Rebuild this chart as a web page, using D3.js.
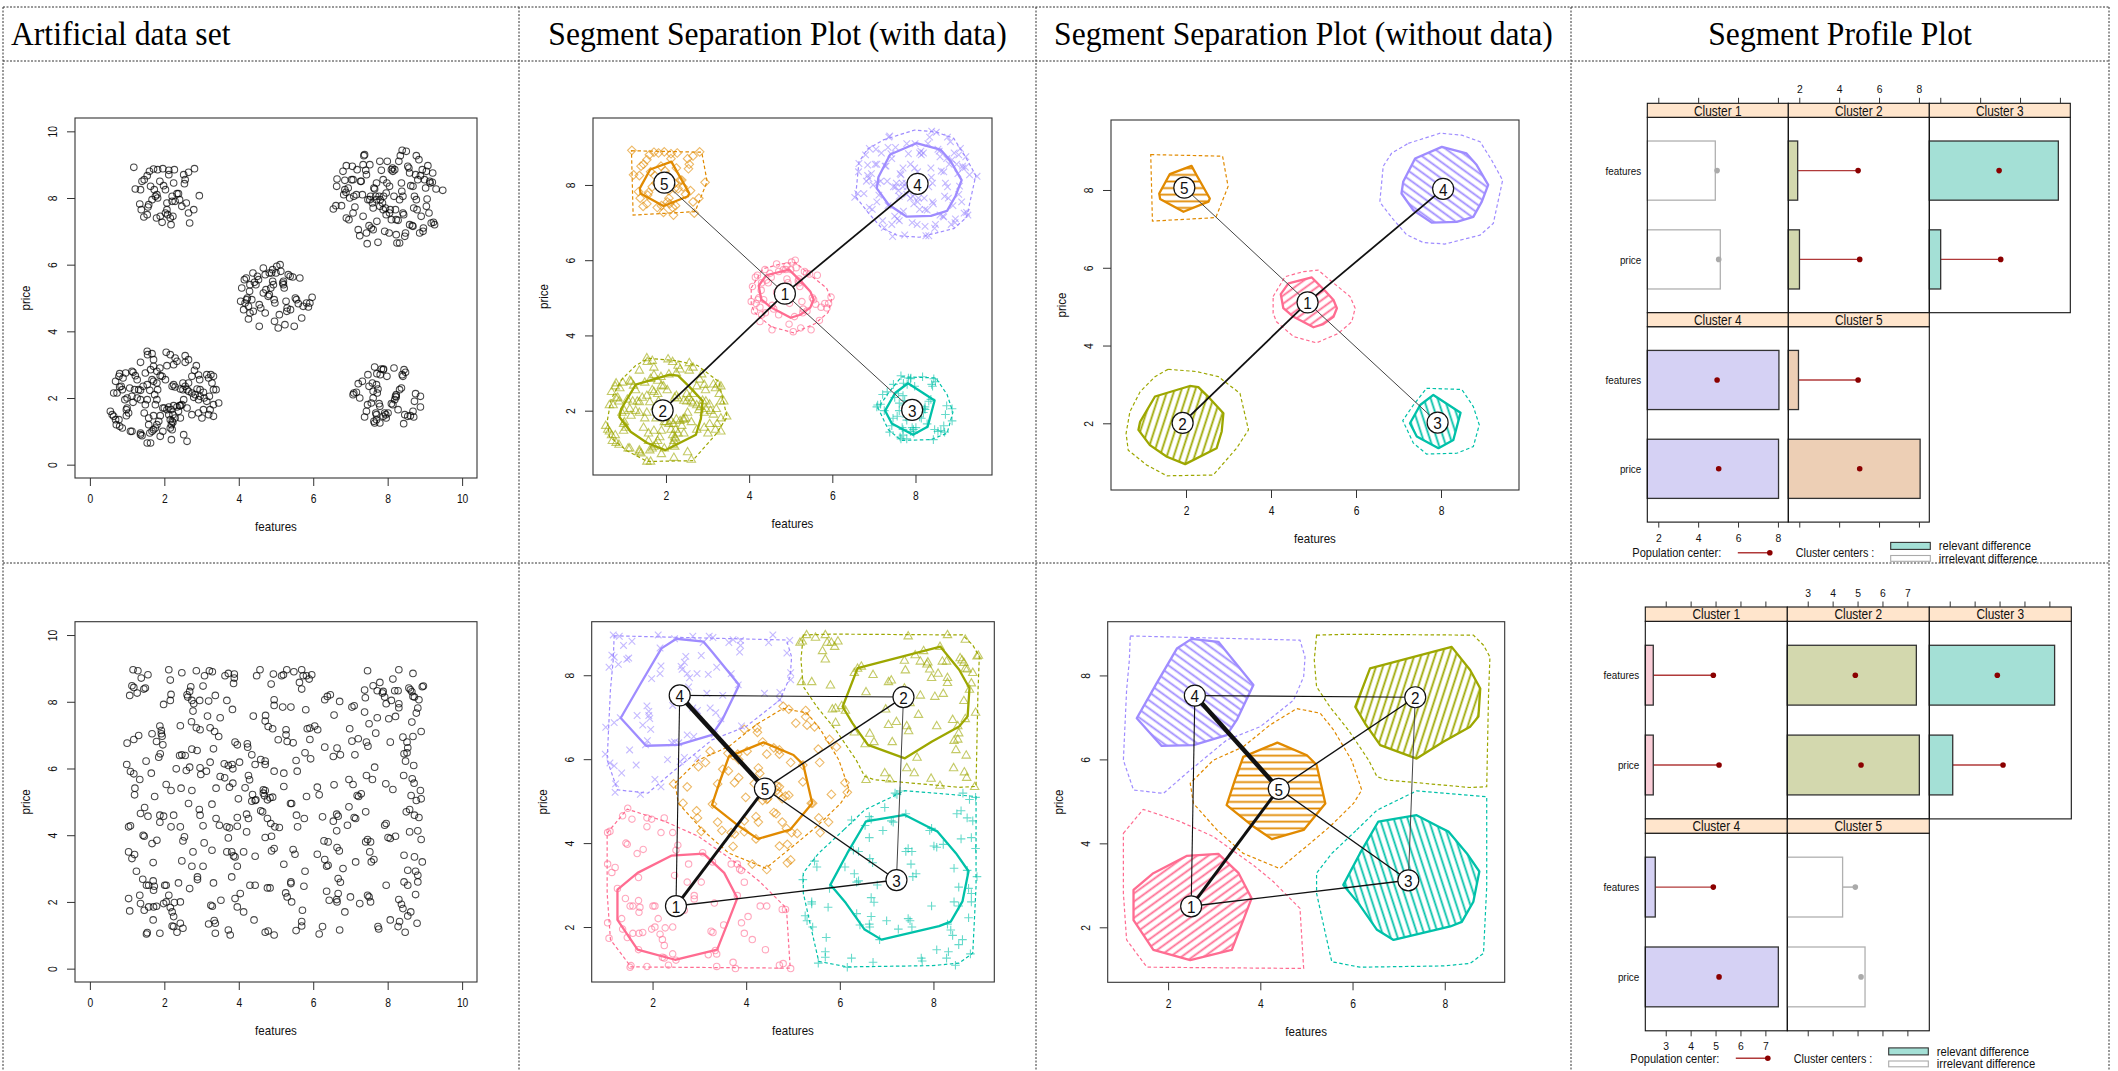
<!DOCTYPE html>
<html>
<head>
<meta charset="utf-8">
<title>segment plots</title>
<script src="https://cdn.jsdelivr.net/npm/d3@7"></script>
<style>
body{margin:0;background:#fff;}
svg{display:block;}
text{font-family:"Liberation Sans",Arial,Helvetica,sans-serif;fill:#111;}
</style>
</head>
<body>
<svg id="board"></svg>
<script>
// board size
var svg_w = 2118, svg_h = 1071;

// headings / names
var col_titles = ["Artificial data set", "Segment Separation Plot (with data)",
  "Segment Separation Plot (without data)", "Segment Profile Plot"];
var var_names = ["features", "price"];
var clus_names = ["Cluster 1", "Cluster 2", "Cluster 3", "Cluster 4", "Cluster 5"];

// ---- top row: five blobs (features, price) ----
var blob_1 = [[4.05,4.90],[4.08,5.30],[4.13,4.65],[4.15,5.55],[4.20,5.60],[4.21,4.95],[4.23,5.00],[4.26,4.37],[4.29,5.20],[4.30,5.40],[4.35,4.95],[4.38,5.75],[4.39,4.60],[4.42,5.47],[4.46,5.40],[4.50,5.65],[4.53,5.55],[4.55,4.80],[4.59,4.70],[4.66,5.15],[4.71,4.55],[4.73,5.25],[4.79,5.05],[4.86,5.30],[4.88,5.75],[4.91,5.85],[4.93,5.40],[4.95,4.95],[4.96,4.30],[4.97,4.85],[5.00,5.75],[5.02,5.95],[5.06,4.10],[5.09,4.50],[5.11,6.00],[5.13,5.80],[5.18,5.45],[5.20,5.50],[5.22,5.30],[5.27,4.90],[5.29,4.60],[5.30,4.70],[5.33,5.70],[5.38,5.65],[5.39,4.65],[5.45,5.63],[5.49,4.15],[5.52,5.00],[5.55,4.95],[5.60,4.83],[5.64,5.60],[5.69,4.40],[5.73,4.75],[5.82,4.85],[5.87,4.73],[5.91,4.85],[5.97,5.02],[4.71,5.70],[4.82,5.75],[5.20,5.40],[4.26,4.75],[4.17,4.85],[4.55,4.15],[4.30,4.55],[4.91,5.50],[4.66,5.90],[4.82,5.10],[5.24,4.20]];
var blob_2 = [[1.54,3.40],[1.55,3.30],[1.67,3.33],[1.71,3.15],[2.05,3.37],[2.16,3.30],[2.29,3.20],[2.34,3.10],[2.56,3.27],[2.56,3.07],[2.65,3.15],[2.86,2.97],[1.36,3.07],[1.16,2.77],[1.22,2.67],[1.13,2.80],[0.96,2.75],[1.63,2.85],[1.71,2.95],[1.80,2.80],[1.88,2.90],[1.94,2.65],[1.67,2.55],[1.71,2.50],[1.80,2.45],[1.89,2.67],[2.07,2.97],[2.25,3.00],[2.50,2.45],[2.65,2.45],[2.74,2.65],[2.81,2.83],[2.92,2.69],[2.95,2.55],[3.14,2.70],[3.19,2.60],[3.25,2.70],[3.32,2.65],[0.69,2.50],[0.78,2.65],[0.80,2.73],[0.84,2.35],[0.80,2.33],[0.73,2.15],[0.64,2.15],[0.87,2.25],[1.20,2.25],[1.31,2.25],[1.36,2.23],[1.43,2.35],[1.54,2.40],[1.61,2.23],[1.74,2.10],[1.82,2.25],[2.03,2.55],[2.21,2.35],[2.25,2.40],[2.29,2.33],[2.43,2.27],[2.50,2.25],[2.56,2.35],[2.65,2.20],[2.74,2.15],[2.79,2.02],[2.88,2.27],[2.96,2.25],[3.05,2.17],[3.14,1.90],[3.21,2.05],[3.28,2.45],[3.32,2.25],[3.39,2.25],[3.46,1.85],[3.05,1.65],[3.23,1.65],[3.32,1.45],[3.01,1.40],[2.92,1.95],[2.96,2.05],[2.83,2.10],[0.55,1.60],[0.60,1.50],[0.64,1.45],[0.69,1.35],[0.78,1.35],[0.71,1.20],[0.80,1.15],[0.87,1.10],[0.98,1.47],[0.98,1.65],[1.04,1.55],[1.00,1.70],[1.13,2.05],[1.00,2.00],[0.94,1.95],[1.16,1.87],[1.27,2.00],[1.36,1.95],[1.49,1.80],[1.54,1.95],[1.46,1.55],[1.58,1.40],[1.71,1.47],[1.76,1.80],[1.89,1.47],[1.96,1.70],[2.00,1.70],[2.07,1.65],[2.12,1.73],[2.18,1.65],[2.23,1.50],[2.12,1.50],[2.16,1.35],[2.21,1.30],[2.19,1.20],[2.23,1.27],[2.29,1.40],[2.38,1.60],[2.41,1.77],[2.47,1.80],[2.25,1.77],[2.34,1.73],[2.43,1.77],[2.61,1.70],[2.74,1.50],[2.61,2.25],[1.13,1.00],[1.09,1.00],[1.36,0.90],[1.40,0.87],[1.54,0.65],[1.63,0.65],[1.61,0.95],[1.67,1.00],[1.71,1.05],[1.76,1.10],[1.89,0.85],[1.96,1.00],[2.16,1.10],[2.21,1.05],[2.19,0.75],[2.52,0.90],[2.61,0.70],[2.43,1.40],[1.80,1.20],[1.85,1.30],[1.58,1.20],[1.36,0.95],[0.89,2.60],[1.27,2.55],[1.49,2.75],[1.07,2.30],[1.80,1.95],[2.52,1.95],[2.92,1.55],[3.07,2.00],[3.19,1.50],[3.32,1.80]];
var blob_3 = [[7.07,2.10],[7.09,2.15],[7.16,2.17],[7.21,2.43],[7.25,2.00],[7.32,2.50],[7.38,1.43],[7.43,1.60],[7.46,1.80],[7.47,2.70],[7.50,2.35],[7.56,1.85],[7.59,2.45],[7.63,1.30],[7.65,2.93],[7.65,1.25],[7.68,1.55],[7.70,2.40],[7.71,2.73],[7.70,1.50],[7.72,2.15],[7.74,2.27],[7.77,1.83],[7.79,1.25],[7.80,2.70],[7.83,2.87],[7.88,2.85],[7.89,2.87],[7.92,1.55],[7.95,1.50],[7.96,1.40],[7.98,2.65],[8.10,1.83],[8.14,1.80],[8.17,2.90],[8.19,1.95],[8.21,2.05],[8.23,2.03],[8.28,1.65],[8.32,2.25],[8.37,2.30],[8.39,2.70],[8.41,2.65],[8.43,1.23],[8.44,2.85],[8.46,1.50],[8.48,2.77],[8.54,1.45],[8.61,1.47],[8.68,1.60],[8.70,1.43],[8.72,1.90],[8.75,2.13],[8.88,2.05],[8.88,1.73],[7.61,2.20],[7.61,2.00],[7.88,1.45],[8.23,2.10],[7.70,1.35],[8.01,1.55],[7.79,1.75]];
var blob_4 = [[6.54,7.67],[6.61,7.77],[6.64,8.57],[6.76,7.77],[6.80,8.80],[6.82,8.10],[6.85,8.25],[6.85,8.53],[6.88,8.17],[6.89,8.97],[6.89,7.40],[6.94,8.30],[6.96,7.35],[6.98,8.00],[7.03,8.55],[7.05,8.95],[7.07,8.55],[7.09,8.05],[7.12,7.73],[7.16,8.10],[7.18,8.85],[7.21,7.05],[7.25,6.87],[7.27,8.50],[7.29,8.50],[7.32,8.10],[7.34,7.45],[7.36,9.27],[7.38,9.30],[7.41,8.83],[7.43,8.70],[7.45,6.63],[7.47,7.95],[7.50,7.17],[7.52,7.95],[7.54,8.05],[7.56,7.10],[7.59,7.85],[7.61,7.70],[7.63,8.30],[7.65,8.27],[7.68,8.05],[7.70,7.95],[7.71,7.30],[7.74,6.67],[7.77,8.05],[7.79,7.75],[7.80,7.95],[7.83,8.83],[7.86,7.85],[7.88,7.65],[7.89,8.05],[7.92,7.00],[7.94,7.70],[7.96,7.50],[7.98,8.45],[7.99,9.10],[8.04,6.95],[8.05,7.55],[8.07,7.65],[8.10,8.85],[8.13,8.90],[8.14,8.80],[8.17,8.05],[8.19,8.85],[8.21,7.65],[8.23,6.90],[8.25,6.65],[8.28,7.33],[8.30,9.10],[8.32,6.65],[8.34,9.27],[8.37,8.45],[8.38,8.20],[8.39,9.43],[8.41,7.55],[8.43,7.50],[8.46,6.85],[8.48,6.95],[8.50,9.40],[8.54,8.95],[8.57,8.90],[8.59,7.20],[8.62,8.37],[8.66,7.17],[8.68,7.15],[8.70,7.70],[8.72,8.05],[8.75,8.70],[8.77,9.27],[8.79,7.65],[8.81,8.55],[8.84,9.15],[8.88,8.67],[8.90,7.45],[8.93,8.85],[8.95,7.00],[8.96,7.10],[8.99,8.55],[9.02,8.30],[9.04,8.80],[9.06,7.97],[9.08,8.97],[9.11,7.55],[9.13,8.50],[9.14,8.45],[9.17,7.25],[9.20,8.47],[9.21,8.75],[9.23,7.27],[9.26,7.20],[9.30,8.27],[9.48,8.23],[7.34,9.00],[7.43,6.95],[7.70,8.45],[8.10,7.35],[8.41,8.05],[8.77,7.95],[7.96,8.15],[7.61,7.05],[8.32,7.95],[9.04,7.75],[7.07,7.55],[7.52,9.00],[8.59,8.75],[7.88,8.55],[8.23,7.35],[6.63,8.35],[8.86,6.95],[7.79,9.10],[8.68,8.35],[8.05,8.35]];
var blob_5 = [[1.18,8.92],[1.22,8.27],[1.34,7.82],[1.38,7.65],[1.45,7.43],[1.46,8.55],[1.54,7.50],[1.56,7.73],[1.54,8.67],[1.60,8.80],[1.63,8.35],[1.67,7.95],[1.71,8.87],[1.73,8.25],[1.76,8.05],[1.79,7.40],[1.80,8.10],[1.82,8.00],[1.88,8.50],[1.89,7.45],[1.94,7.27],[1.96,8.88],[1.98,8.37],[2.03,8.25],[2.03,7.55],[2.07,7.85],[2.09,7.50],[2.12,8.70],[2.12,8.83],[2.16,7.40],[2.18,7.20],[2.21,8.05],[2.21,7.90],[2.23,7.45],[2.27,8.85],[2.29,7.90],[2.34,8.13],[2.38,8.13],[2.41,7.95],[2.47,7.75],[2.52,8.70],[2.54,8.43],[2.59,7.85],[2.65,8.77],[2.65,7.55],[2.68,7.25],[2.79,7.65],[2.81,8.88],[2.94,8.07],[1.36,8.25],[1.40,8.50],[1.58,7.80],[2.25,8.45],[1.82,8.85],[2.07,7.65],[2.56,8.55]];
var blobs = [blob_1, blob_2, blob_3, blob_4, blob_5];

// ---- bottom row: uniform data (features, price) ----
var uni_pts = [[1.16,8.96],[1.29,8.93],[1.56,8.81],[2.12,8.96],[2.47,8.87],[2.86,8.93],[3.08,8.78],[3.21,8.93],[3.29,8.90],[3.63,8.78],[3.72,8.85],[3.88,8.83],[3.88,8.71],[4.57,8.96],[4.48,8.78],[4.93,8.83],[5.15,8.78],[5.20,8.81],[5.29,8.96],[5.48,8.90],[5.69,8.96],[5.73,8.78],[5.82,8.78],[5.89,8.68],[5.96,8.81],[7.46,8.93],[8.30,8.96],[8.68,8.85],[8.14,8.68],
[1.13,8.48],[1.18,8.43],[1.07,8.19],[1.27,8.26],[1.38,8.71],[1.45,8.38],[1.49,8.41],[2.16,8.65],[2.18,8.22],[2.16,8.04],[2.71,8.45],[2.68,8.31],[2.61,8.21],[2.63,8.14],[2.74,8.04],[2.79,7.94],[2.95,8.04],[3.04,8.47],[3.19,8.02],[3.37,8.19],[3.68,8.04],[3.86,8.55],[4.87,8.53],[4.95,8.06],[4.95,7.89],[5.69,8.38],[5.63,8.58],[6.31,8.06],[6.38,8.16],[6.46,8.21],[6.71,8.01],[7.38,8.35],[7.40,8.12],[7.61,8.48],[7.72,8.33],[7.79,8.58],[7.86,8.26],[7.88,8.31],[7.92,8.14],[7.96,7.94],[8.10,8.04],[8.19,8.33],[8.28,8.33],[8.30,7.94],[8.30,7.82],[8.57,8.41],[8.61,8.36],[8.65,8.30],[8.68,8.16],[8.72,8.14],[8.84,8.06],[8.93,8.45],[8.96,8.47],
[1.98,7.92],[2.77,7.72],[2.73,7.40],[2.86,7.22],[2.96,7.16],[3.16,7.57],[3.23,7.22],[3.35,7.11],[3.50,7.52],[3.83,7.77],[4.39,7.57],[4.72,7.59],[4.71,7.42],[4.79,7.26],[4.91,7.19],[5.18,7.84],[5.40,7.84],[5.27,7.16],[5.80,7.76],[5.84,7.19],[5.91,7.21],[6.04,7.27],[6.12,7.16],[6.56,7.60],[7.04,7.84],[7.10,7.88],[6.98,7.19],[7.38,7.69],[7.50,7.34],[7.68,7.06],[7.72,7.52],[8.03,7.49],[8.07,6.79],[8.21,7.56],[8.41,6.94],[8.65,7.39],[8.77,7.66],[8.81,7.81],[8.90,7.11],[8.68,6.96],[1.31,6.99],[1.88,7.27],[1.92,7.14],[1.92,7.04],[1.67,7.04],[2.43,7.28],
[1.00,6.76],[1.18,6.87],[1.79,6.81],[1.94,6.97],[1.96,6.71],[1.89,6.44],[1.85,6.34],[2.41,6.39],[2.47,6.41],[2.56,6.39],[2.32,5.99],[2.59,5.94],[2.68,6.04],[2.74,6.58],[2.88,6.54],[2.96,6.02],[2.98,5.82],[3.13,5.92],[3.23,6.19],[3.32,6.59],[3.46,6.96],[3.61,6.14],[3.72,6.09],[3.84,5.99],[3.82,6.12],[3.90,6.79],[3.96,6.71],[4.02,6.19],[4.23,6.74],[4.24,6.64],[4.35,6.41],[4.44,6.12],[4.59,6.27],[4.71,6.22],[4.71,6.12],[5.06,6.86],[5.21,5.86],[5.27,7.01],[5.30,6.81],[5.46,6.77],[5.54,6.24],[5.57,5.92],[5.78,6.47],[5.91,6.87],[5.93,6.29],[6.31,6.64],[6.54,6.36],[6.64,6.61],[6.73,6.41],[7.04,6.82],[7.12,6.41],[7.21,6.89],[7.43,6.79],[7.47,6.67],[7.65,6.04],[8.52,6.79],[8.52,6.47],[8.70,6.09],[8.54,6.62],[8.44,6.44],[8.48,6.22],[0.99,6.12],[1.09,5.91],[1.18,5.84],[1.51,6.22],[1.65,5.86],
[1.34,5.67],[1.21,5.41],[1.20,5.21],[1.74,5.16],[2.05,5.52],[2.18,5.34],[2.45,5.41],[2.74,5.34],[2.65,4.95],[3.39,5.41],[3.50,5.76],[3.62,5.72],[3.75,5.44],[3.84,5.56],[3.99,5.09],[4.17,5.42],[4.26,5.79],[4.29,5.66],[4.37,5.22],[4.46,5.06],[4.66,5.36],[4.66,5.26],[4.71,5.34],[4.69,5.18],[4.77,5.06],[4.95,5.92],[4.91,5.14],[4.84,5.12],[5.21,5.46],[5.42,4.95],[5.82,5.16],[6.11,5.44],[6.16,5.21],[6.56,5.51],[6.96,5.67],[7.07,5.52],[7.18,5.19],[7.22,5.16],[7.29,5.24],[7.43,5.79],[7.59,5.67],[7.95,5.54],[8.14,5.37],[8.43,5.79],[8.66,5.69],[8.71,5.56],[8.88,5.34],[8.90,5.09],[8.63,5.19],[8.77,5.04],
[1.47,4.83],[1.36,4.65],[1.56,4.57],[1.04,4.25],[1.09,4.28],[1.43,4.00],[1.46,3.97],[1.88,4.60],[1.88,4.39],[1.98,4.57],[2.18,4.25],[2.25,4.60],[2.43,4.25],[2.54,3.95],[2.94,4.77],[2.96,4.60],[3.04,4.28],[3.28,4.93],[3.39,4.50],[3.48,4.30],[3.68,4.25],[3.75,4.22],[3.72,3.92],[3.96,4.27],[3.96,4.53],[4.21,4.63],[4.26,4.50],[4.21,4.10],[4.35,5.02],[4.44,5.04],[4.59,4.73],[4.64,4.70],[4.77,4.50],[4.86,4.35],[4.88,3.97],[4.97,4.25],[5.09,4.23],[5.39,4.95],[5.55,4.60],[5.58,4.25],[5.76,4.50],[6.25,4.55],[6.54,4.42],[6.63,4.63],[6.67,4.57],[6.63,4.13],[6.92,4.30],[6.96,4.85],[7.10,4.53],[7.14,4.50],[7.41,4.70],[7.46,3.87],[7.41,3.80],[7.54,3.80],[7.92,4.30],[7.96,4.35],[8.07,3.90],[8.21,3.97],[8.59,4.10],[8.59,4.77],[8.72,4.60],[8.81,4.13],[8.84,4.53],[8.90,3.87],[8.50,4.70],
[1.04,3.50],[1.13,3.30],[1.20,3.42],[1.67,3.75],[1.80,3.85],[2.50,3.83],[2.77,3.50],[3.07,3.77],[3.28,3.55],[3.68,3.50],[3.81,3.50],[3.86,3.38],[3.90,3.35],[3.96,3.07],[4.13,3.50],[4.44,3.37],[4.71,3.93],[4.88,3.53],[4.95,3.60],[5.21,3.13],[5.46,3.57],[5.51,3.43],[6.29,3.83],[6.40,3.80],[6.11,3.43],[6.31,3.27],[6.64,3.63],[6.70,3.53],[7.14,3.20],[7.52,3.50],[7.56,3.20],[7.63,3.27],[8.01,3.93],[8.44,3.40],[8.72,3.35],[8.93,3.20],[6.80,3.00],[5.78,2.92],[6.36,3.07],[3.04,3.07],[2.74,3.07],[2.47,3.23],[1.70,3.18],[1.25,2.92],
[1.42,2.68],[1.52,2.50],[1.58,2.50],[1.70,2.63],[1.71,2.35],[1.73,2.47],[2.01,2.50],[2.05,2.50],[2.38,2.57],[2.27,1.98],[2.68,2.40],[2.89,2.75],[2.89,2.67],[3.32,2.57],[3.81,2.75],[4.04,2.25],[4.30,2.50],[4.44,2.50],[4.77,2.42],[4.84,2.42],[5.26,2.27],[5.40,2.60],[5.40,2.55],[5.75,2.47],[6.36,2.32],[6.40,3.10],[6.67,2.70],[6.73,2.59],[7.00,2.15],[7.25,1.95],[7.46,2.20],[7.50,2.15],[7.54,2.00],[7.96,2.50],[8.30,2.07],[8.37,1.93],[8.44,2.60],[8.54,2.50],[8.75,2.22],[8.81,2.80],[8.75,2.92],[8.81,2.60],[8.54,2.95],[6.67,2.25],[6.63,2.07],[6.43,2.05],[1.04,2.10],[1.34,2.20],[1.36,1.95],[1.98,1.95],[2.05,2.00],[2.12,2.20],[2.43,2.00],
[1.07,1.73],[1.46,1.75],[1.58,1.85],[1.71,1.85],[1.79,1.87],[1.70,1.46],[2.16,1.83],[2.21,1.70],[2.25,1.56],[2.21,1.28],[2.25,1.26],[2.34,1.09],[2.43,1.36],[2.50,1.21],[3.25,1.90],[3.29,1.87],[3.34,1.44],[3.37,1.36],[3.19,1.34],[3.52,2.05],[3.90,2.10],[3.96,1.85],[4.13,1.70],[4.41,1.46],[4.71,1.09],[4.79,1.13],[5.30,2.15],[5.42,2.00],[5.54,1.14],[5.69,1.28],[5.69,1.41],[5.71,1.75],[6.16,1.04],[6.25,1.26],[6.64,2.00],[6.71,1.16],[6.85,1.70],[8.07,1.46],[8.28,1.26],[8.32,1.41],[8.41,1.80],[8.47,1.09],[8.54,1.58],[8.62,1.70],[8.79,1.36],[7.74,1.26],[7.76,1.19],[1.54,1.08],[1.52,1.04],[1.88,1.06],[3.37,1.06],[3.72,1.16],[3.77,1.01],[4.95,1.01]];

// cluster centers (features, price) and population center
var centers_a = [[4.86,5.11],[1.92,2.01],[7.92,2.02],[8.05,8.03],[1.96,8.06]];
var centers_b = [[2.50,2.50],[7.36,7.48],[7.21,3.12],[2.58,7.52],[4.40,5.30]];
var pop_a = [4.95,5.03];
var pop_b = [4.91,5.14];
var relevant_a = [false,true,true,true,true];
var relevant_b = [true,true,true,true,false];

// neighbourhood graph: [from, to, line width]
var edges_a = [[1,2,1.8],[1,4,1.8],[1,5,1.0],[1,3,1.0]];
var edges_b = [[4,5,4.5],[1,5,3.0],[2,5,1.4],[3,5,1.4],[1,3,1.4],[4,2,1.1],[4,1,1.1],[2,3,1.0]];

// segment shapes, solid (inner) and dashed (outer)
var inner_a = [
  [[4.23,5.32],[4.41,5.60],[4.96,5.75],[5.27,5.41],[5.47,5.17],[5.55,4.96],[5.47,4.74],[5.23,4.55],[5.00,4.47],[4.53,4.74],[4.29,4.96]],
  [[1.27,2.69],[2.09,2.96],[2.29,2.93],[2.56,2.64],[2.88,2.26],[2.84,1.79],[2.72,1.36],[1.98,0.95],[1.55,1.14],[1.15,1.44],[0.88,1.83],[0.92,2.04]],
  [[7.82,2.73],[8.46,2.27],[8.29,1.57],[7.94,1.36],[7.43,1.66],[7.27,2.00],[7.51,2.47]],
  [[7.39,8.81],[8.02,9.11],[8.60,8.94],[8.84,8.64],[9.11,8.13],[8.96,7.70],[8.76,7.31],[8.37,7.18],[7.78,7.16],[7.35,7.48],[7.07,7.91],[7.11,8.21]],
  [[1.37,7.91],[1.62,8.41],[2.13,8.62],[2.25,8.38],[2.56,7.78],[2.53,7.70],[1.94,7.44],[1.39,7.77]]];
var outer_a = [
  [[4.05,5.26],[4.33,5.77],[4.76,5.90],[5.11,5.94],[5.39,5.68],[5.86,5.26],[5.98,4.96],[5.90,4.61],[5.58,4.31],[5.07,4.07],[4.53,4.23],[4.13,4.61],[4.05,4.83]],
  [[1.58,3.39],[2.25,3.33],[2.76,3.20],[3.27,2.77],[3.47,1.83],[3.19,1.36],[2.64,0.67],[1.55,0.65],[1.07,0.93],[0.64,1.31],[0.59,1.74],[0.68,2.30],[0.92,2.81],[1.27,3.20]],
  [[7.66,2.90],[8.49,2.87],[8.76,2.43],[8.90,1.96],[8.76,1.40],[8.37,1.23],[7.66,1.21],[7.35,1.49],[7.10,2.07],[7.35,2.47]],
  [[7.23,9.20],[7.98,9.46],[8.49,9.41],[8.92,9.24],[9.19,8.77],[9.45,8.25],[9.23,7.14],[8.92,6.84],[8.09,6.61],[7.58,6.65],[7.19,6.85],[6.88,7.24],[6.56,7.69],[6.64,8.61],[6.84,8.95]],
  [[1.17,8.91],[2.86,8.87],[2.99,8.09],[2.70,7.29],[1.21,7.20]]];
var inner_b = [
  [[1.25,2.89],[1.68,3.29],[2.40,3.70],[3.09,3.75],[3.53,3.29],[3.81,2.69],[3.63,2.17],[3.38,1.46],[2.48,1.22],[1.68,1.46],[1.25,2.17]],
  [[6.38,8.17],[8.15,8.68],[8.55,8.13],[8.77,7.69],[8.73,7.02],[8.55,6.78],[7.97,6.42],[7.39,6.02],[6.60,6.34],[6.27,6.86],[6.06,7.25]],
  [[6.56,4.52],[7.39,4.67],[7.86,4.40],[8.08,4.28],[8.48,3.76],[8.75,3.33],[8.62,2.61],[8.37,2.13],[8.12,2.02],[6.89,1.70],[6.53,1.94],[6.13,2.57],[5.80,3.01],[6.16,3.76]],
  [[2.19,8.64],[2.51,8.87],[3.09,8.80],[3.27,8.56],[3.85,7.77],[3.49,6.94],[3.27,6.58],[2.55,6.34],[1.86,6.32],[1.32,6.98],[1.75,7.81]],
  [[3.63,6.06],[4.37,6.40],[5.01,6.10],[5.22,5.87],[5.41,4.95],[4.94,4.32],[4.25,4.10],[3.85,4.40],[3.27,4.91],[3.45,5.51]]];
var outer_b = [
  [[1.03,4.24],[1.46,4.81],[2.26,4.52],[2.98,4.16],[3.85,3.48],[4.28,3.09],[4.86,2.45],[4.94,1.02],[1.54,1.05],[1.10,1.70],[1.03,2.81]],
  [[5.22,8.96],[5.88,8.98],[8.62,8.96],[8.84,8.72],[8.98,8.44],[8.95,7.57],[8.91,5.35],[8.55,5.33],[6.74,5.51],[6.53,5.59],[6.35,5.98],[5.91,6.70],[5.51,7.25],[5.22,7.73],[5.17,8.37]],
  [[6.09,4.32],[6.53,4.79],[7.39,5.25],[8.91,5.11],[8.91,2.97],[8.84,1.38],[8.55,1.14],[7.97,1.08],[6.16,1.05],[5.55,1.18],[5.41,1.86],[5.22,2.81],[5.22,3.29],[5.55,3.76]],
  [[1.18,8.94],[4.86,8.84],[4.97,8.44],[4.94,7.97],[4.72,7.41],[4.00,6.78],[3.27,6.46],[2.40,5.67],[1.90,5.19],[1.25,5.27],[1.03,5.98],[1.10,7.65],[1.16,8.37]],
  [[3.63,6.30],[4.21,6.82],[4.79,7.21],[5.30,7.10],[5.59,6.70],[5.98,5.98],[6.20,5.27],[6.02,4.95],[5.51,4.40],[5.08,4.00],[4.42,3.40],[3.63,3.76],[3.06,4.32],[2.55,4.95],[2.48,5.43],[2.98,5.98]]];

// tick values
var ticks_raw = [0,2,4,6,8,10];
var ticks_sep = [2,4,6,8];
var ticks_prof_a = [2,4,6,8];
var ticks_prof_b = [3,4,5,6,7];

// colours
var clus_col = ["#FF6C91","#9DA700","#00C1A9","#9F8CFF","#E18A00"];
var clus_light = ["#F9CCD6","#D3D8AE","#A4E0D6","#D5D1F4","#EDCFB5"];
var hatch_angle = [36,72,108,144,0];

// ---- layout (pixels) ----
var grid_x = [3,519,1036,1571,2109];
var grid_y = [7,61,563];
var frames = {
  a_raw: {box:[75,118,477,478], xd:[-0.4,10.4], yd:[-0.4,10.4]},
  a_dat: {box:[593,118,992,475], xd:[0.245,9.84], yd:[0.29,9.78]},
  a_hul: {box:[1111,120,1519,490], xd:[0.235,9.835], yd:[0.285,9.8]},
  b_raw: {box:[75,621.7,477,982], xd:[-0.4,10.4], yd:[-0.4,10.4]},
  b_dat: {box:[591.7,621.7,994.3,982], xd:[0.70,9.30], yd:[0.69,9.276]},
  b_hul: {box:[1107.7,621.7,1504.7,982.3], xd:[0.69,9.30], yd:[0.69,9.28]}
};
var prof_a = {left:1647.3, top:103.3, col_w:141, strip_h:14, panel_h:195.4, xd:[1.45,8.52], leg_dy:30.6};
var prof_b = {left:1645.3, top:607, col_w:142, strip_h:14.3, panel_h:197.6, xd:[2.18,7.88], leg_dy:27.4};

var svg = d3.select("#board").attr("width",svg_w).attr("height",svg_h);
svg.append("rect").attr("width",svg_w).attr("height",svg_h).attr("fill","#fff");
var defs = svg.append("defs");

// hatching patterns for the shapes without data
hatch_angle.forEach(function(a,k){
  defs.append("pattern").attr("id","hatch"+k).attr("patternUnits","userSpaceOnUse")
    .attr("width",20).attr("height",6.6).attr("patternTransform","rotate("+(-a)+")")
    .append("line").attr("x1",0).attr("x2",20).attr("y1",3.3).attr("y2",3.3)
    .attr("stroke",clus_col[k]).attr("stroke-width",1.8);
});

function draw_text(p, x, y, s, size, anchor, sx, rot){
  var tf = "translate("+x+","+y+")" + (rot ? " rotate("+rot+")" : "") + " scale("+sx+",1)";
  return p.append("text").attr("transform",tf).attr("text-anchor",anchor || "middle")
    .attr("dominant-baseline","central").attr("font-size",size).text(s);
}
function draw_line(p, x1, x2, y1, y2){
  return p.append("line").attr("x1",x1).attr("x2",x2).attr("y1",y1).attr("y2",y2);
}

// R-like plotting symbols 1..5 (circle, triangle, plus, cross, diamond)
function sym_path(kind, x, y){
  switch(kind){
    case 0: return "M"+(x+3.2)+","+y+"A3.2,3.2 0 1,1 "+(x-3.2)+","+y+"A3.2,3.2 0 1,1 "+(x+3.2)+","+y;
    case 1: return "M"+x+","+(y-4.6)+"L"+(x+4.2)+","+(y+2.7)+"L"+(x-4.2)+","+(y+2.7)+"Z";
    case 2: return "M"+(x-4.3)+","+y+"H"+(x+4.3)+"M"+x+","+(y-4.3)+"V"+(y+4.3);
    case 3: return "M"+(x-3.3)+","+(y-3.3)+"L"+(x+3.3)+","+(y+3.3)+"M"+(x-3.3)+","+(y+3.3)+"L"+(x+3.3)+","+(y-3.3);
    default: return "M"+x+","+(y-4.3)+"L"+(x+4.3)+","+y+"L"+x+","+(y+4.3)+"L"+(x-4.3)+","+y+"Z";
  }
}

function make_frame(f){
  return {
    g: svg.append("g"), box: f.box,
    xs: d3.scaleLinear().domain(f.xd).range([f.box[0], f.box[2]]),
    ys: d3.scaleLinear().domain(f.yd).range([f.box[3], f.box[1]])
  };
}
function style_axis(ax){
  ax.attr("font-size",12).attr("color","#333");
  ax.select(".domain").remove();
}
// box, ticks and axis titles, R style
function draw_axes(fr, ticks){
  var b = fr.box, g = fr.g;
  var ax = g.append("g").attr("transform","translate(0,"+b[3]+")")
    .call(d3.axisBottom(fr.xs).tickValues(ticks).tickSize(8).tickFormat(d3.format("d")));
  style_axis(ax);
  ax.selectAll(".tick text").attr("y",null).attr("dy",null).attr("dominant-baseline","central")
    .attr("transform","translate(0,21) scale(0.86,1)");
  var ay = g.append("g").attr("transform","translate("+b[0]+",0)")
    .call(d3.axisLeft(fr.ys).tickValues(ticks).tickSize(8).tickFormat(d3.format("d")));
  style_axis(ay);
  ay.selectAll(".tick text").attr("x",null).attr("dy",null).attr("text-anchor","middle")
    .attr("dominant-baseline","central").attr("transform","translate(-22,0) rotate(-90) scale(0.86,1)");
  g.append("rect").attr("x",b[0]).attr("y",b[1]).attr("width",b[2]-b[0]).attr("height",b[3]-b[1])
    .attr("fill","none").attr("stroke","#333").attr("stroke-width",1.1);
  draw_text(g,(b[0]+b[2])/2,b[3]+49,var_names[0],13,"middle",0.89);
  draw_text(g,b[0]-49,(b[1]+b[3])/2,var_names[1],13,"middle",0.89,-90);
}

function draw_raw(fr, groups){
  var pts = [].concat.apply([], groups);
  fr.g.append("g").selectAll("circle").data(pts).join("circle")
    .attr("cx",function(d){return fr.xs(d[0]);}).attr("cy",function(d){return fr.ys(d[1]);})
    .attr("r",3.3).attr("fill","none").attr("stroke","#000").attr("stroke-opacity",0.72).attr("stroke-width",1.05);
}

function draw_separation(fr, groups, inner, outer, cents, edges, with_data){
  var g = fr.g, xs = fr.xs, ys = fr.ys;
  var hull = d3.line().x(function(d){return xs(d[0]);}).y(function(d){return ys(d[1]);}).curve(d3.curveLinearClosed);
  if(with_data){
    groups.forEach(function(pts,k){
      g.append("g").selectAll("path").data(pts).join("path")
        .attr("d",function(d){return sym_path(k,xs(d[0]),ys(d[1]));})
        .attr("fill","none").attr("stroke",clus_col[k]).attr("stroke-opacity",0.6).attr("stroke-width",1.1);
    });
  }
  g.append("g").selectAll("path").data(outer).join("path").attr("d",hull)
    .attr("fill","none").attr("stroke",function(d,k){return clus_col[k];})
    .attr("stroke-width",1.2).attr("stroke-dasharray","3.5,2.5");
  g.append("g").selectAll("path").data(inner).join("path").attr("d",hull)
    .attr("fill",function(d,k){return with_data ? "none" : "url(#hatch"+k+")";})
    .attr("stroke",function(d,k){return clus_col[k];}).attr("stroke-width",2.3)
    .attr("stroke-linejoin","round");
  g.append("g").selectAll("line").data(edges).join("line")
    .attr("x1",function(d){return xs(cents[d[0]-1][0]);}).attr("y1",function(d){return ys(cents[d[0]-1][1]);})
    .attr("x2",function(d){return xs(cents[d[1]-1][0]);}).attr("y2",function(d){return ys(cents[d[1]-1][1]);})
    .attr("stroke",function(d){return d[2] > 1.05 ? "#111" : "#444";})
    .attr("stroke-width",function(d){return d[2];});
  var cg = g.append("g").selectAll("g").data(cents).join("g")
    .attr("transform",function(d){return "translate("+xs(d[0])+","+ys(d[1])+")";});
  cg.append("circle").attr("r",10.5).attr("fill","#fff").attr("stroke","#111").attr("stroke-width",1.2);
  cg.each(function(d,i){ draw_text(d3.select(this),0,0.5,String(i+1),17,"middle",0.9); });
}

// lattice-like segment profile plot
function draw_profile(lay, cents, pop, rel, ticks){
  var g = svg.append("g");
  cents.forEach(function(c,k){
    var col = k % 3, row = Math.floor(k / 3);
    var x0 = lay.left + col*lay.col_w, x1 = x0 + lay.col_w;
    var st = lay.top + row*(lay.strip_h + lay.panel_h);
    var pt = st + lay.strip_h, pb = pt + lay.panel_h;
    var xs = d3.scaleLinear().domain(lay.xd).range([x0,x1]);
    var ys = d3.scaleLinear().domain([0.4,2.6]).range([pt,pb]);
    var bh = ys(1.333) - ys(1);
    var rows = var_names.map(function(v,i){ return {name:v, val:c[i], pop:pop[i], pos:i+1}; });
    var p = g.append("g");
    var seg_col = rel[k] ? "#B03A3A" : "#AAAAAA", dot_col = rel[k] ? "#8B0000" : "#AAAAAA";
    p.selectAll("line.seg").data(rows).join("line").attr("class","seg")
      .attr("x1",function(d){return xs(d.val);}).attr("x2",function(d){return xs(d.pop);})
      .attr("y1",function(d){return ys(d.pos);}).attr("y2",function(d){return ys(d.pos);})
      .attr("stroke",seg_col).attr("stroke-width",1.4);
    p.selectAll("rect.bar").data(rows).join("rect").attr("class","bar")
      .attr("x",x0).attr("y",function(d){return ys(d.pos)-bh;})
      .attr("width",function(d){return xs(d.val)-x0;}).attr("height",2*bh)
      .attr("fill",rel[k] ? clus_light[k] : "#fff")
      .attr("stroke",rel[k] ? "#333" : "#B0B0B0").attr("stroke-width",1.3);
    p.selectAll("circle.pop").data(rows).join("circle").attr("class","pop")
      .attr("cx",function(d){return xs(d.pop);}).attr("cy",function(d){return ys(d.pos);})
      .attr("r",2.8).attr("fill",dot_col);
    p.append("rect").attr("x",x0).attr("y",pt).attr("width",lay.col_w).attr("height",lay.panel_h)
      .attr("fill","none").attr("stroke","#111").attr("stroke-width",1.1);
    p.append("rect").attr("x",x0).attr("y",st).attr("width",lay.col_w).attr("height",lay.strip_h)
      .attr("fill","#FFE5CC").attr("stroke","#111").attr("stroke-width",1.1);
    draw_text(p,(x0+x1)/2,st+lay.strip_h/2+0.5,clus_names[k],14,"middle",0.85);
    if(row == 0){
      var at = p.append("g").attr("transform","translate(0,"+st+")")
        .call(d3.axisTop(xs).tickValues(ticks).tickSize(5.5).tickFormat(col == 1 ? d3.format("d") : ""));
      style_axis(at);
      at.selectAll(".tick text").attr("y",null).attr("dy",null).attr("dominant-baseline","central")
        .attr("font-size",11.5).attr("transform","translate(0,-14.6) scale(0.9,1)");
    }
    if(row == 1){
      var ab = p.append("g").attr("transform","translate(0,"+pb+")")
        .call(d3.axisBottom(xs).tickValues(ticks).tickSize(5.5).tickFormat(col == 0 ? d3.format("d") : ""));
      style_axis(ab);
      ab.selectAll(".tick text").attr("y",null).attr("dy",null).attr("dominant-baseline","central")
        .attr("font-size",11.5).attr("transform","translate(0,15.4) scale(0.9,1)");
    }
    if(col == 0){
      rows.forEach(function(d){ draw_text(p,lay.left-6,ys(d.pos),d.name,11.5,"end",0.86); });
    }
  });
  // legend
  var ly = lay.top + 2*(lay.strip_h + lay.panel_h) + lay.leg_dy, lx = lay.left;
  draw_text(g,lx-15,ly,"Population center:",13,"start",0.85);
  draw_line(g,lx+90.5,lx+122.5,ly,ly).attr("stroke","#B03A3A").attr("stroke-width",1.4);
  g.append("circle").attr("cx",lx+122.5).attr("cy",ly).attr("r",2.8).attr("fill","#8B0000");
  draw_text(g,lx+148.5,ly,"Cluster centers :",13,"start",0.83);
  g.append("rect").attr("x",lx+243.4).attr("y",ly-10.3).attr("width",39.6).attr("height",7)
    .attr("fill",clus_light[2]).attr("stroke","#333").attr("stroke-width",1.1);
  g.append("rect").attr("x",lx+243.4).attr("y",ly+2.8).attr("width",39.6).attr("height",5.8)
    .attr("fill","#fff").attr("stroke","#AAA").attr("stroke-width",1.1);
  draw_text(g,lx+291.4,ly-6.8,"relevant difference",12.5,"start",0.9);
  draw_text(g,lx+291.4,ly+5.6,"irrelevant difference",12.5,"start",0.9);
}

// bottom row: cluster membership = closest center
function nearest(p, cents){
  var best = 0, bd = 1e9;
  cents.forEach(function(c,k){
    var d = (p[0]-c[0])*(p[0]-c[0]) + (p[1]-c[1])*(p[1]-c[1]);
    if(d < bd){ bd = d; best = k; }
  });
  return best;
}
var uni_groups = [[],[],[],[],[]];
uni_pts.forEach(function(p){ uni_groups[nearest(p,centers_b)].push(p); });

// ---- draw ----
var fr;
fr = make_frame(frames.a_raw); draw_axes(fr,ticks_raw); draw_raw(fr,blobs);
fr = make_frame(frames.a_dat); draw_axes(fr,ticks_sep); draw_separation(fr,blobs,inner_a,outer_a,centers_a,edges_a,true);
fr = make_frame(frames.a_hul); draw_axes(fr,ticks_sep); draw_separation(fr,blobs,inner_a,outer_a,centers_a,edges_a,false);
fr = make_frame(frames.b_raw); draw_axes(fr,ticks_raw); draw_raw(fr,[uni_pts]);
fr = make_frame(frames.b_dat); draw_axes(fr,ticks_sep); draw_separation(fr,uni_groups,inner_b,outer_b,centers_b,edges_b,true);
fr = make_frame(frames.b_hul); draw_axes(fr,ticks_sep); draw_separation(fr,uni_groups,inner_b,outer_b,centers_b,edges_b,false);
draw_profile(prof_a,centers_a,pop_a,relevant_a,ticks_prof_a);
draw_profile(prof_b,centers_b,pop_b,relevant_b,ticks_prof_b);

// table of dotted lines and column headings
var grid = svg.append("g").attr("stroke","#333").attr("stroke-width",1).attr("stroke-dasharray","2,1.5");
grid_x.forEach(function(x){ draw_line(grid,x,x,grid_y[0],svg_h); });
grid_y.forEach(function(y){ draw_line(grid,grid_x[0],grid_x[grid_x.length-1],y,y); });
col_titles.forEach(function(t,i){
  var left = i == 0;
  var x = left ? grid_x[0]+8 : (grid_x[i]+grid_x[i+1])/2;
  draw_text(svg,x,45,t,34,left ? "start" : "middle",0.93)
    .attr("dominant-baseline","auto").style("font-family","'Liberation Serif','Times New Roman',serif").style("fill","#000");
});
</script>
</body>
</html>
